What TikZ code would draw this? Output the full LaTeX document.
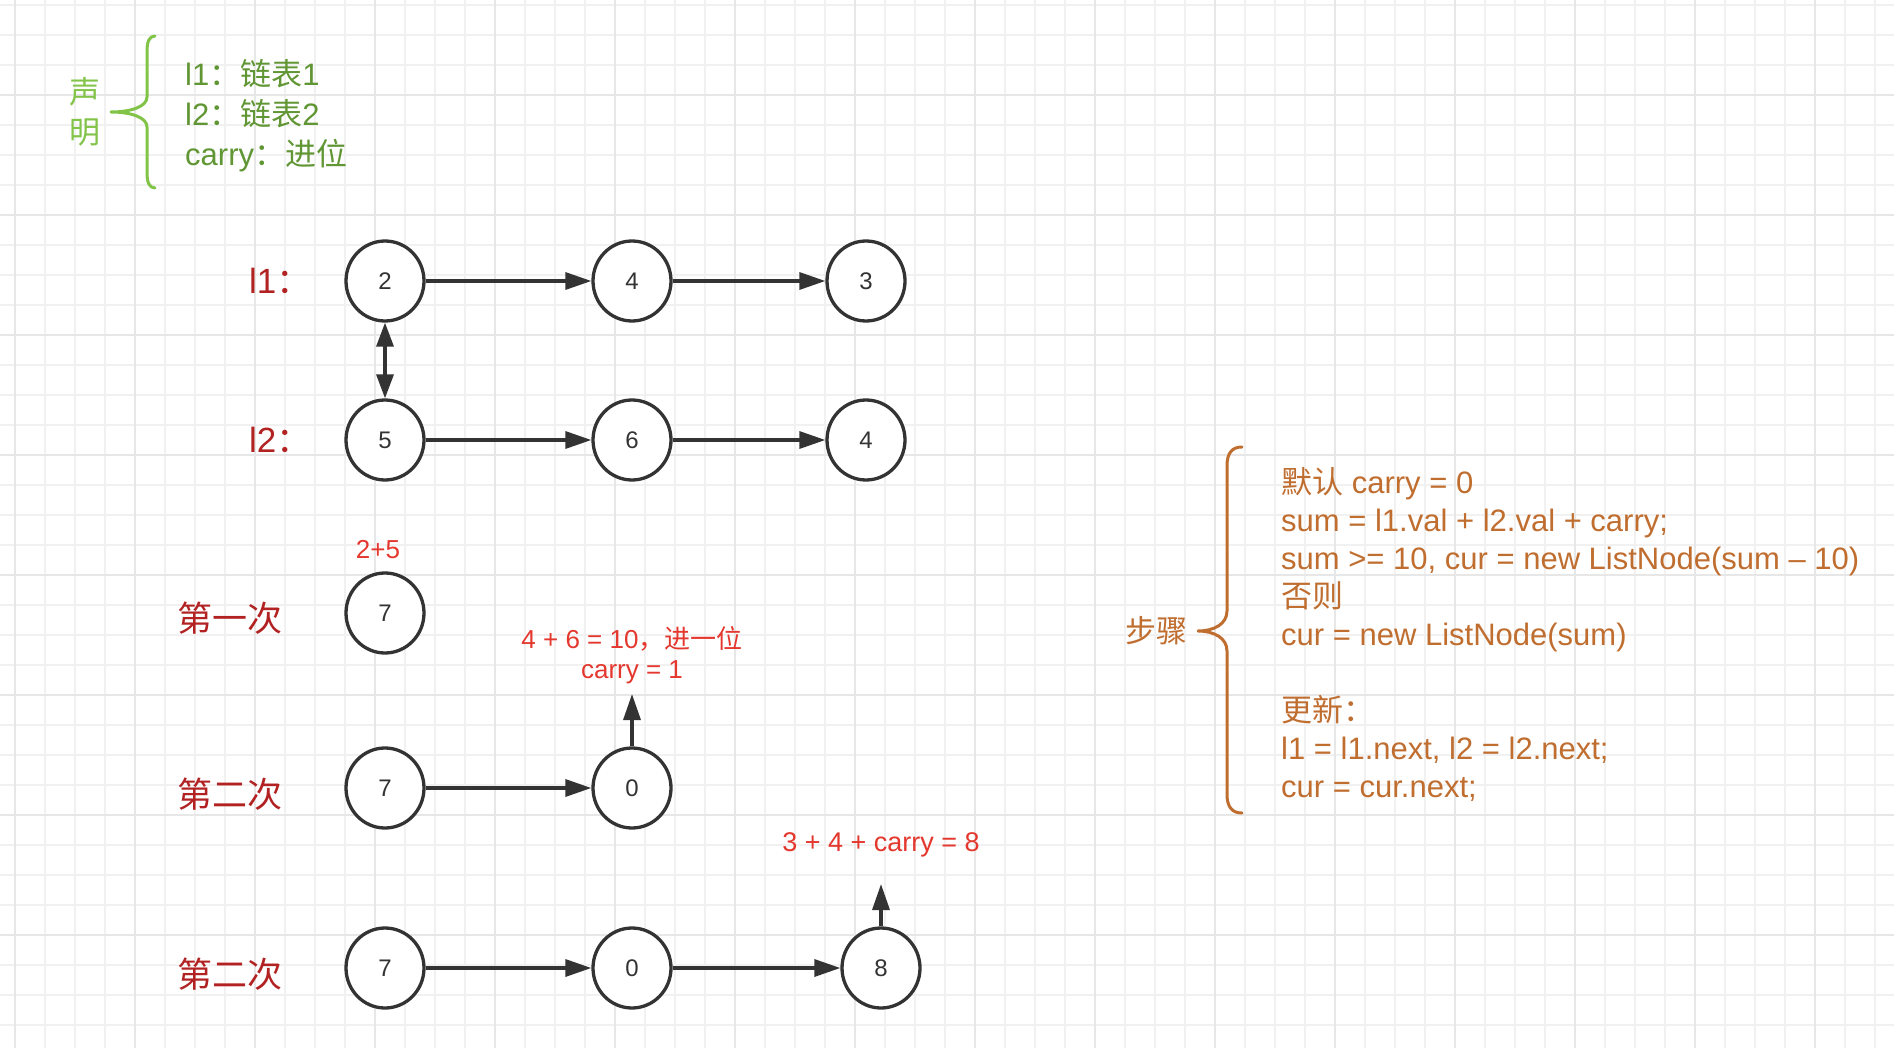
\documentclass[tikz,border=0pt]{standalone}
\usepackage{fontspec}
\setmainfont{Liberation Sans}
\newfontfamily\cjk{Noto Sans CJK SC}
\usetikzlibrary{arrows.meta,shapes.geometric}
\definecolor{gminorc}{RGB}{241,241,241}
\definecolor{gmajorc}{RGB}{231,231,231}
\definecolor{inkc}{RGB}{51,51,51}
\definecolor{darkredc}{RGB}{178,34,34}
\definecolor{brightredc}{RGB}{228,55,45}
\definecolor{lightgreenc}{RGB}{130,196,72}
\definecolor{greentextc}{RGB}{96,150,52}
\definecolor{orangec}{RGB}{192,110,48}
\begin{document}
\begin{tikzpicture}[x=1pt,y=-1pt,
  gminor/.style={draw=gminorc,line width=1.2pt},
  gmajor/.style={draw=gmajorc,line width=1.6pt},
  listnode/.style={ellipse,draw=inkc,fill=white,line width=3.3pt,minimum width=78pt,minimum height=80pt,inner sep=0pt,text=inkc,font=\fontsize{24pt}{28pt}\selectfont},
  link/.style={draw=inkc,line width=3.3pt,-{Triangle[length=26pt,width=17pt]}},
  dlink/.style={draw=inkc,line width=3.3pt,{Triangle[length=24pt,width=17pt]}-{Triangle[length=24pt,width=17pt]}},
  redlbl/.style={text=darkredc,inner sep=0pt,font=\fontsize{35pt}{40pt}\selectfont},
  annot/.style={text=brightredc,inner sep=0pt,font=\fontsize{26pt}{31pt}\selectfont},
  greenlbl/.style={text=greentextc,inner sep=0pt,anchor=base west,font=\fontsize{31pt}{38pt}\selectfont},
  greenhead/.style={text=lightgreenc,inner sep=0pt,font=\cjk\fontsize{31pt}{38pt}\selectfont},
  orangelbl/.style={text=orangec,inner sep=0pt,anchor=base west,font=\fontsize{31pt}{38pt}\selectfont},
  bracestyle/.style={line width=3pt,line cap=round,line join=round}
]
\useasboundingbox (0,0) rectangle (1894,1048);
\fill[white] (0,0) rectangle (1894,1048);
% grid
\foreach \x in {15,45,...,1890} \draw[gminor] (\x,0) -- (\x,1048);
\foreach \y in {5,35,...,1045} \draw[gminor] (0,\y) -- (1894,\y);
\foreach \x in {15,135,...,1890} \draw[gmajor] (\x,0) -- (\x,1048);
\foreach \y in {95,215,...,1045} \draw[gmajor] (0,\y) -- (1894,\y);

% legend (green)
\node[greenhead] (sheng) at (85,92) {声};
\node[greenhead] (ming) at (85,132) {明};
\draw[bracestyle,lightgreenc] (155,36) .. controls (149,36) and (147,42) .. (147,52) -- (147,97)
  .. controls (147,107) and (130,112) .. (111,112)
  .. controls (130,112) and (147,117) .. (147,127) -- (147,172)
  .. controls (147,182) and (149,188) .. (155,188);
\node[greenlbl] (g1) at (185,86) {l1{\cjk ：链表}1};
\node[greenlbl] (g2) at (185,126) {l2{\cjk ：链表}2};
\node[greenlbl] (g3) at (185,166) {carry{\cjk ：进位}};

% list labels
\node[redlbl,anchor=west] (l1lbl) at (249,281) {l1{\cjk ：}};
\node[redlbl,anchor=west] (l2lbl) at (249,440) {l2{\cjk ：}};
\node[redlbl,font=\cjk\fontsize{35pt}{40pt}\selectfont] (r1lbl) at (230,618) {第一次};
\node[redlbl,font=\cjk\fontsize{35pt}{40pt}\selectfont] (r2lbl) at (230,794) {第二次};
\node[redlbl,font=\cjk\fontsize{35pt}{40pt}\selectfont] (r3lbl) at (230,974) {第二次};

% list nodes
\node[listnode] (a1) at (385,281) {2};
\node[listnode] (a2) at (632,281) {4};
\node[listnode] (a3) at (866,281) {3};
\node[listnode] (b1) at (385,440) {5};
\node[listnode] (b2) at (632,440) {6};
\node[listnode] (b3) at (866,440) {4};
\node[listnode] (c1) at (385,613) {7};
\node[listnode] (d1) at (385,788) {7};
\node[listnode] (d2) at (632,788) {0};
\node[listnode] (e1) at (385,968) {7};
\node[listnode] (e2) at (632,968) {0};
\node[listnode] (e3) at (881,968) {8};

\draw[link] (a1) -- (a2);
\draw[link] (a2) -- (a3);
\draw[link] (b1) -- (b2);
\draw[link] (b2) -- (b3);
\draw[dlink] (a1) -- (b1);
\draw[link] (d1) -- (d2);
\draw[link] (e1) -- (e2);
\draw[link] (e2) -- (e3);

% annotations
\node[annot] (sum1) at (378,550) {2+5};
\node[annot] (sum2a) at (632,639) {4 + 6 = 10{\cjk ，进一位}};
\node[annot] (sum2b) at (632,672) {carry = 1};
\coordinate (up1) at (632,694);
\draw[link] (d2) -- (up1);
\node[annot,font=\fontsize{27pt}{32pt}\selectfont] (sum3) at (881,845) {3 + 4 + carry = 8};
\coordinate (up2) at (881,884);
\draw[link] (e3) -- (up2);

% steps (orange)
\node[text=orangec,inner sep=0pt,font=\cjk\fontsize{31pt}{38pt}\selectfont] (steplbl) at (1156,631) {步骤};
\draw[bracestyle,orangec] (1242,447) .. controls (1232,447) and (1227,453) .. (1227,466) -- (1227,611)
  .. controls (1227,624) and (1214,631) .. (1198,631)
  .. controls (1214,631) and (1227,638) .. (1227,651) -- (1227,794)
  .. controls (1227,807) and (1232,813) .. (1242,813);
\node[orangelbl] (s1) at (1281,493) {{\cjk 默认} carry = 0};
\node[orangelbl] (s2) at (1281,531) {sum = l1.val + l2.val + carry;};
\node[orangelbl] (s3) at (1281,569) {sum >= 10, cur = new ListNode(sum – 10)};
\node[orangelbl] (s4) at (1281,607) {{\cjk 否则}};
\node[orangelbl] (s5) at (1281,645) {cur = new ListNode(sum)};
\node[orangelbl] (s6) at (1281,721) {{\cjk 更新：}};
\node[orangelbl] (s7) at (1281,759) {l1 = l1.next, l2 = l2.next;};
\node[orangelbl] (s8) at (1281,797) {cur = cur.next;};
\end{tikzpicture}
\end{document}
